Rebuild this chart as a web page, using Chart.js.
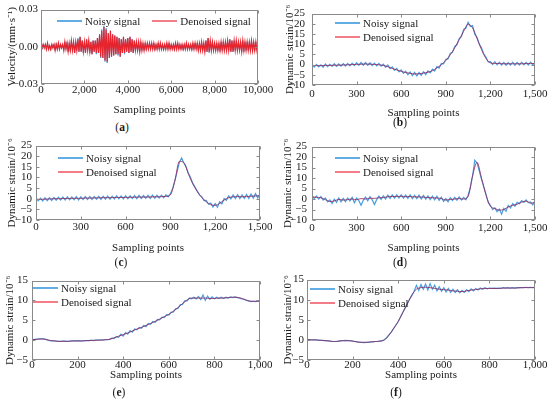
<!DOCTYPE html>
<html>
<head>
<meta charset="utf-8">
<script src="https://cdn.jsdelivr.net/npm/chart.js@4.4.0/dist/chart.umd.min.js"></script>
<style>
body { margin: 0; background: #fff; }
#fig { position: relative; width: 550px; height: 410px; overflow: hidden; font-family: 'Liberation Serif', serif; color: #1a1a1a; }
#fig canvas { position: absolute; }
.lg { position: absolute; font-size: 11px; line-height: 14px; white-space: nowrap; }
.lg .ln { display: inline-block; width: 25px; height: 2px; vertical-align: middle; margin-right: 3px; position: relative; top: -1px; }
.lg.row .it { margin-right: 12px; }
.cap { position: absolute; font-size: 11.5px; line-height: 14px; transform: translateX(-50%); }
</style>
</head>
<body>
<div id="fig"></div>
<script>
const legendLabels = ['Noisy signal', 'Denoised signal'];

// tick values
const velTicksY = [-0.03, 0, 0.03];
const velTicksX = [0, 2000, 4000, 6000, 8000, 10000];
const strainTicksY = [-10, -5, 0, 5, 10, 15, 20, 25];
const strainTicksYShort = [-5, 0, 5, 10, 15];
const pointTicks1500 = [0, 300, 600, 900, 1200, 1500];
const pointTicks1000 = [0, 200, 400, 600, 800, 1000];

// (a) velocity in 1e-3 mm/s, one value every 50 samples
const velNoisy = [
  1,-2,2,-1,2,-2,3,-2,1,-3,2,-1,2,-3,3,-2,3,-2,2,-1,
  2,-3,4,-2,4,-4,3,-4,5,-3,4,-5,4,-3,7,-4,8,-4,5,-5,
  4,-5,6,-3,5,-5,4,-6,5,-4,5,-6,7,-5,10,-9,14,-9,17,-12,
  15,-13,11,-9,13,-8,10,-7,9,-6,8,-7,7,-8,6,-5,8,-6,6,-4,
  7,-5,8,-4,6,-5,5,-3,4,-4,4,-4,4,-3,3,-3,3,-3,3,-2,
  3,-2,3,-2,3,-3,2,-2,3,-2,3,-2,2,-3,2,-2,3,-2,3,-2,
  2,-2,2,-3,3,-2,3,-2,2,-2,2,-3,2,-2,3,-2,2,-2,2,-3,
  3,-2,3,-2,3,-3,3,-3,4,-3,3,-4,5,-4,7,-5,5,-3,4,-3,
  3,-3,3,-3,3,-4,4,-3,4,-3,4,-3,5,-3,6,-4,5,-4,5,-3,
  5,-3,4,-3,4,-4,5,-4,4,-3,4,-3,4,-3,5,-4,4,-3,4,-3,2
];
const velDenoised = [
  1,-1,2,-1,2,-2,3,-2,1,-2,2,-1,2,-3,2,-2,3,-2,2,-1,
  2,-3,4,-2,3,-4,3,-3,5,-3,4,-5,4,-3,6,-4,8,-4,5,-4,
  4,-5,6,-3,5,-4,4,-6,5,-4,5,-5,7,-5,10,-8,13,-9,16,-11,
  14,-12,11,-9,13,-8,10,-7,9,-6,8,-6,7,-8,6,-5,8,-5,6,-4,
  7,-5,8,-4,6,-5,5,-3,4,-3,4,-4,4,-3,3,-3,3,-2,3,-2,
  3,-2,3,-2,3,-2,2,-2,3,-2,3,-2,2,-2,2,-2,3,-2,3,-2,
  2,-2,2,-2,3,-2,3,-2,2,-2,2,-2,2,-2,3,-2,2,-2,2,-2,
  3,-2,3,-2,3,-3,3,-3,4,-3,3,-4,5,-4,7,-4,5,-3,4,-3,
  3,-3,3,-3,3,-3,4,-3,4,-3,4,-3,5,-3,6,-4,5,-4,5,-3,
  5,-3,4,-3,4,-4,5,-3,4,-3,4,-3,4,-3,5,-3,4,-3,4,-3,2
];

// (b) dynamic strain, noisy every 15 samples, denoised every 30
const strainNoisyB = [
  0.2,-1.2,0.1,-1.1,-0.1,-1.3,0.3,-1.0,0.1,-0.9,
  0.4,-0.9,0.3,-0.8,0.5,-0.7,0.6,-0.6,0.7,-0.5,
  0.9,-0.4,1.0,-0.3,1.0,-0.4,0.9,-0.5,0.7,-0.6,
  0.6,-0.8,0.2,-1.3,-0.2,-2.0,-1.1,-2.8,-1.9,-3.6,
  -2.6,-4.3,-3.2,-5.0,-3.6,-5.4,-3.8,-5.5,-3.9,-5.3,
  -3.5,-4.9,-3.1,-4.0,-2.2,-3.2,-1.0,-1.7,0.6,0.4,
  2.6,2.8,5.5,6.0,8.9,9.7,12.8,13.7,17.2,17.9,
  20.8,18.7,19.1,14.9,13.4,10.1,8.2,5.3,3.7,1.3,
  1.5,0.0,1.4,-0.1,1.2,-0.2,1.1,-0.3,1.0,-0.2,
  1.2,-0.3,1.1,-0.2,1.2,-0.1,1.1,-0.2,1.2,0.0,
  1.0
];
const strainDenoisedB = [
  -0.5,-0.5,-0.5,-0.4,-0.4,-0.3,-0.3,-0.2,-0.1,0.0,
  0.1,0.2,0.3,0.2,0.1,-0.1,-0.4,-1.0,-1.9,-2.6,
  -3.3,-3.9,-4.3,-4.6,-4.5,-4.2,-3.7,-3.0,-1.6,-0.1,
  2.0,4.8,8.2,12.2,16.3,19.8,18.0,12.8,7.4,3.0,
  0.8,0.6,0.5,0.4,0.4,0.4,0.4,0.4,0.5,0.5,
  0.5
];

// (c)
const strainNoisyC = [
  0.4,-1.0,0.3,-1.1,0.5,-0.9,0.5,-0.8,0.6,-0.7,
  0.7,-0.6,0.8,-0.6,0.9,-0.5,0.8,-0.5,1.0,-0.6,
  0.9,-0.4,1.0,-0.4,1.1,-0.3,1.1,-0.2,1.2,-0.3,
  1.2,-0.2,1.3,-0.2,1.2,-0.1,1.4,0.0,1.3,-0.1,
  1.4,0.0,1.4,0.1,1.5,0.0,1.6,0.1,1.5,0.2,
  1.6,0.1,1.7,0.2,1.6,0.3,1.7,0.4,1.8,0.9,
  2.4,4.8,8.5,12.8,17.0,19.2,16.8,15.0,12.1,10.0,
  7.2,5.5,3.6,1.8,1.0,-0.9,-0.8,-2.6,-2.0,-3.9,
  -2.3,-4.0,-1.4,-2.4,0.1,-0.7,1.3,-0.1,1.8,0.1,
  1.9,0.1,1.8,0.2,2.0,0.1,2.2,0.3,2.4,0.4,
  2.2
];
const strainDenoisedC = [
  -0.3,-0.3,-0.2,-0.1,0.0,0.0,0.1,0.1,0.2,0.2,
  0.2,0.3,0.3,0.4,0.4,0.5,0.5,0.5,0.6,0.6,
  0.6,0.7,0.7,0.8,0.8,0.8,0.9,0.9,1.0,1.1,
  1.8,8.5,17.6,17.0,11.8,7.0,3.4,0.6,-1.4,-2.8,
  -3.1,-2.2,-0.6,0.5,0.9,1.0,0.9,1.0,1.2,1.3,
  1.5
];

// (d)
const strainNoisyD = [
  1.7,0.2,1.5,0.0,1.2,-0.5,0.5,-1.3,-0.4,-2.1,
  -0.1,-1.6,0.5,-1.3,0.3,-1.2,0.5,-0.9,0.8,-1.8,
  0.4,-0.8,-3.0,-0.6,0.9,-0.8,1.1,-0.4,-2.6,-0.3,
  1.4,-0.2,1.5,0.0,1.9,0.3,2.0,0.4,2.0,0.5,
  2.0,0.4,1.9,0.3,2.0,0.2,1.8,0.2,1.8,0.0,
  1.7,-0.1,1.5,-0.3,1.4,-0.4,1.3,-0.6,0.9,-1.1,
  0.2,-1.3,0.6,-0.7,0.8,-0.6,1.0,-0.5,0.8,-0.3,
  1.8,5.5,11.0,18.5,17.2,13.5,9.5,6.0,2.3,-1.5,
  -3.0,-5.0,-4.2,-6.0,-4.8,-7.2,-4.5,-5.8,-3.0,-4.2,
  -2.2,-3.4,-1.6,-2.2,-0.8,-1.6,-0.4,-1.7,-1.4,-2.8,
  -1.0
];
const strainDenoisedD = [
  1.0,0.8,0.6,-0.3,-1.2,-0.9,-0.2,-0.5,-0.3,0.0,
  -0.3,0.2,0.0,0.4,0.3,0.6,0.7,1.1,1.2,1.2,
  1.3,1.1,1.2,1.0,1.0,0.9,0.7,0.6,0.5,0.2,
  -0.5,-0.2,0.0,0.2,0.0,1.2,11.0,17.5,10.0,2.0,
  -3.5,-4.5,-5.3,-5.0,-3.8,-3.0,-2.5,-1.5,-1.0,-2.0,
  -1.5
];

// (e) noisy every 10 samples, denoised every 20
const strainNoisyE = [
  0.1,0.2,0.2,0.3,0.3,0.3,0.2,0.0,-0.1,-0.2,
  -0.2,-0.3,-0.3,-0.3,-0.2,-0.3,-0.3,-0.2,-0.2,-0.2,
  -0.1,-0.2,-0.2,-0.1,-0.1,-0.1,0.0,-0.1,0.0,0.0,
  0.1,0.0,0.1,0.1,0.2,0.5,0.4,0.9,0.7,1.5,
  1.0,1.9,1.5,2.4,2.0,2.8,2.6,3.2,3.0,3.7,
  3.4,4.2,4.0,4.7,4.5,5.2,5.1,5.8,5.7,6.4,
  6.3,7.0,7.1,7.9,8.0,8.9,9.0,9.9,9.9,10.6,
  10.4,10.8,10.4,11.0,10.2,11.4,10.0,11.1,10.3,10.9,
  10.4,10.8,10.5,10.8,10.5,10.8,10.6,10.9,10.7,10.9,
  10.7,10.6,10.4,10.3,10.0,9.9,9.7,9.8,9.7,9.9,
  9.8
];
const strainDenoisedE = [
  0.1,0.2,0.3,0.2,-0.1,-0.2,-0.3,-0.3,-0.3,-0.2,
  -0.2,-0.2,-0.1,-0.1,0.0,0.0,0.1,0.2,0.6,1.0,
  1.4,1.8,2.3,2.8,3.2,3.7,4.2,4.7,5.3,5.9,
  6.5,7.3,8.2,9.2,10.1,10.6,10.6,10.6,10.6,10.5,
  10.5,10.6,10.6,10.7,10.8,10.8,10.5,10.1,9.8,9.8,
  9.8
];

// (f)
const strainNoisyF = [
  0.1,0.1,0.0,0.0,0.0,-0.1,-0.1,-0.1,-0.2,-0.2,
  -0.3,-0.4,-0.4,-0.4,-0.3,-0.2,-0.2,-0.1,-0.2,-0.2,
  -0.3,-0.4,-0.5,-0.6,-0.6,-0.7,-0.6,-0.6,-0.5,-0.5,
  -0.4,-0.4,-0.3,-0.2,0.1,0.6,1.3,2.0,2.9,3.7,
  4.5,5.7,6.8,7.9,9.0,10.1,11.0,12.1,13.6,12.3,
  13.8,12.6,13.9,12.4,14.0,12.6,13.6,12.2,13.2,12.1,
  13.0,11.9,12.8,11.8,12.6,11.8,12.5,11.7,12.3,11.8,
  12.5,12.0,12.7,12.2,12.8,12.4,12.9,12.6,13.0,12.7,
  12.9,12.8,12.9,12.8,12.9,12.8,13.0,12.9,13.0,12.9,
  13.0,12.9,13.0,13.0,13.0,13.0,13.1,13.0,13.1,13.0,
  13.1
];
const strainDenoisedF = [
  0.1,0.0,0.0,-0.1,-0.2,-0.3,-0.4,-0.3,-0.2,-0.2,
  -0.3,-0.5,-0.6,-0.6,-0.5,-0.4,-0.3,0.0,1.2,2.8,
  4.6,6.8,9.0,11.2,12.6,13.0,13.1,13.0,12.8,12.6,
  12.5,12.4,12.2,12.1,12.0,12.2,12.4,12.5,12.7,12.8,
  12.8,12.8,12.8,12.9,12.9,12.9,12.9,13.0,13.0,13.0,
  13.0
];

const FONT = 11;
const HALF = FONT * 1.2 / 2;
Chart.defaults.font.family = "'Liberation Serif', serif";
Chart.defaults.font.size = FONT;
Chart.defaults.font.weight = 'normal';
Chart.defaults.color = '#1a1a1a';

const fig = document.getElementById('fig');
const fmtMinus = s => s.replace('-', '\u2212');
const strainFmt = v => fmtMinus(String(v));
const strainTitle = 'Dynamic strain/10\u207B\u2076';
const titleFont = {family: "'Liberation Serif', serif", size: FONT, weight: 'normal'};

const panels = [
  {cap: 'a', L: 0, T: 0, W: 280, H: 120, area: [41, 258, 9, 84], yTitleX: 12, xTitleY: 110, yPad: 3, xPad: 0,
   yTitle: 'Velocity/(mm\u00B7s\u207B\u00B9)', xTicks: velTicksX, yTicks: velTicksY, noisy: velNoisy, den: velDenoised, unit: 0.001,
   yFmt: v => fmtMinus(v.toFixed(2)), legend: {x: 57, y: 21, row: true}, capPos: [122, 127], redTop: true},
  {cap: 'b', L: 275, T: 0, W: 280, H: 122, area: [312, 535, 7, 85], yTitleX: 290, xTitleY: 113, yPad: 7, xPad: 3,
   yTitle: strainTitle, xTicks: pointTicks1500, yTicks: strainTicksY, noisy: strainNoisyB, den: strainDenoisedB, unit: 1,
   yFmt: strainFmt, legend: {x: 335, y: 23}, capPos: [400, 122]},
  {cap: 'c', L: 0, T: 135, W: 280, H: 122, area: [36, 260, 142, 220], yTitleX: 12, xTitleY: 248, yPad: 4, xPad: 1,
   yTitle: strainTitle, xTicks: pointTicks1500, yTicks: strainTicksY, noisy: strainNoisyC, den: strainDenoisedC, unit: 1,
   yFmt: strainFmt, legend: {x: 58, y: 158}, capPos: [121, 262]},
  {cap: 'd', L: 275, T: 135, W: 280, H: 122, area: [312, 535, 142, 220], yTitleX: 288, xTitleY: 248, yPad: 5, xPad: 2,
   yTitle: strainTitle, xTicks: pointTicks1500, yTicks: strainTicksY, noisy: strainNoisyD, den: strainDenoisedD, unit: 1,
   yFmt: strainFmt, legend: {x: 335, y: 158}, capPos: [400, 262]},
  {cap: 'e', L: 0, T: 270, W: 280, H: 114, area: [32, 260, 277, 360], yTitleX: 10, xTitleY: 375, yPad: 4, xPad: -1,
   yTitle: strainTitle, xTicks: pointTicks1000, yTicks: strainTicksYShort, noisy: strainNoisyE, den: strainDenoisedE, unit: 1,
   yFmt: strainFmt, legend: {x: 33, y: 288}, capPos: [119, 392]},
  {cap: 'f', L: 275, T: 270, W: 280, H: 114, area: [307, 535, 277, 360], yTitleX: 288, xTitleY: 375, yPad: 3, xPad: -1,
   yTitle: strainTitle, xTicks: pointTicks1000, yTicks: strainTicksYShort, noisy: strainNoisyF, den: strainDenoisedF, unit: 1,
   yFmt: strainFmt, legend: {x: 310, y: 289}, capPos: [396, 392]}
];

// evenly spaced sampling points across the x range
const toPoints = (vals, xMax, unit) => vals.map((v, i) => ({x: i * xMax / (vals.length - 1), y: v * unit}));

// frame with inward tick marks on all four sides
const boxPlugin = {
  id: 'box',
  afterDraw(chart) {
    const {ctx, chartArea: a, scales} = chart;
    const L = Math.round(a.left) + 0.5, R = Math.round(a.right) - 0.5;
    const T = Math.round(a.top) + 0.5, B = Math.round(a.bottom) - 0.5;
    ctx.save();
    ctx.strokeStyle = '#8a8a8a';
    ctx.lineWidth = 1;
    ctx.strokeRect(L, T, R - L, B - T);
    ctx.beginPath();
    scales.x.ticks.forEach(t => {
      const x = Math.round(scales.x.getPixelForValue(t.value)) + 0.5;
      ctx.moveTo(x, B); ctx.lineTo(x, B - 3);
      ctx.moveTo(x, T); ctx.lineTo(x, T + 3);
    });
    scales.y.ticks.forEach(t => {
      const y = Math.round(scales.y.getPixelForValue(t.value)) + 0.5;
      ctx.moveTo(L, y); ctx.lineTo(L + 3, y);
      ctx.moveTo(R, y); ctx.lineTo(R - 3, y);
    });
    ctx.stroke();
    ctx.restore();
  }
};

function makeChart(p) {
  const cv = document.createElement('canvas');
  cv.width = p.W;
  cv.height = p.H;
  cv.style.left = p.L + 'px';
  cv.style.top = p.T + 'px';
  fig.appendChild(cv);

  const [x0, x1, y0, y1] = p.area;
  const xMax = p.xTicks[p.xTicks.length - 1];
  const padLeft = p.yTitleX - HALF - p.L;
  const padBottom = p.T + p.H - (p.xTitleY + HALF);

  new Chart(cv, {
    type: 'line',
    data: {
      datasets: [
        {
          label: legendLabels[0],
          data: toPoints(p.noisy, xMax, p.unit),
          borderColor: p.redTop ? '#58a9e0' : '#4a9fe0',
          borderWidth: p.redTop ? 1 : 1.2,
          pointRadius: 0,
          order: 1
        },
        {
          label: legendLabels[1],
          data: toPoints(p.den, xMax, p.unit),
          borderColor: p.redTop ? '#e6242e' : 'rgba(150,35,85,0.8)',
          borderWidth: p.redTop ? 1.2 : 1,
          pointRadius: 0,
          cubicInterpolationMode: p.redTop ? 'default' : 'monotone',
          tension: p.redTop ? 0 : 0.4,
          order: 0
        }
      ]
    },
    options: {
      responsive: false,
      animation: false,
      events: [],
      layout: {padding: {left: padLeft, top: y0 - p.T, right: p.L + p.W - x1, bottom: padBottom}},
      plugins: {legend: {display: false}, tooltip: {enabled: false}},
      scales: {
        x: {
          type: 'linear',
          min: p.xTicks[0],
          max: xMax,
          grid: {display: false, drawTicks: false},
          border: {display: false},
          afterBuildTicks: s => { s.ticks = p.xTicks.map(v => ({value: v})); },
          afterFit: s => { s.height = p.xTitleY + HALF - y1; },
          ticks: {padding: p.xPad, maxRotation: 0, autoSkip: false, callback: v => v.toLocaleString('en-US')},
          title: {display: true, text: 'Sampling points', padding: 0, font: titleFont}
        },
        y: {
          type: 'linear',
          min: p.yTicks[0],
          max: p.yTicks[p.yTicks.length - 1],
          grid: {display: false, drawTicks: false},
          border: {display: false},
          afterBuildTicks: s => { s.ticks = p.yTicks.map(v => ({value: v})); },
          afterFit: s => { s.width = x0 - (p.L + padLeft); },
          ticks: {padding: p.yPad, autoSkip: false, callback: v => p.yFmt(v)},
          title: {display: true, text: p.yTitle, padding: 0, font: titleFont}
        }
      }
    },
    plugins: [boxPlugin]
  });

  // legend drawn inside the plot frame
  const lg = document.createElement('div');
  lg.className = 'lg' + (p.legend.row ? ' row' : '');
  lg.style.left = p.legend.x + 'px';
  lg.style.top = (p.legend.y - 7) + 'px';
  const lgColors = ['#62ade3', '#f27d86'];
  legendLabels.forEach((txt, i) => {
    const it = document.createElement(p.legend.row ? 'span' : 'div');
    it.className = 'it';
    const ln = document.createElement('span');
    ln.className = 'ln';
    ln.style.background = lgColors[i];
    it.appendChild(ln);
    it.appendChild(document.createTextNode(txt));
    lg.appendChild(it);
  });
  fig.appendChild(lg);

  const cap = document.createElement('div');
  cap.className = 'cap';
  cap.style.left = p.capPos[0] + 'px';
  cap.style.top = (p.capPos[1] - 7) + 'px';
  cap.innerHTML = '(<b>' + p.cap + '</b>)';
  fig.appendChild(cap);
}

panels.forEach(makeChart);
</script>
</body>
</html>
